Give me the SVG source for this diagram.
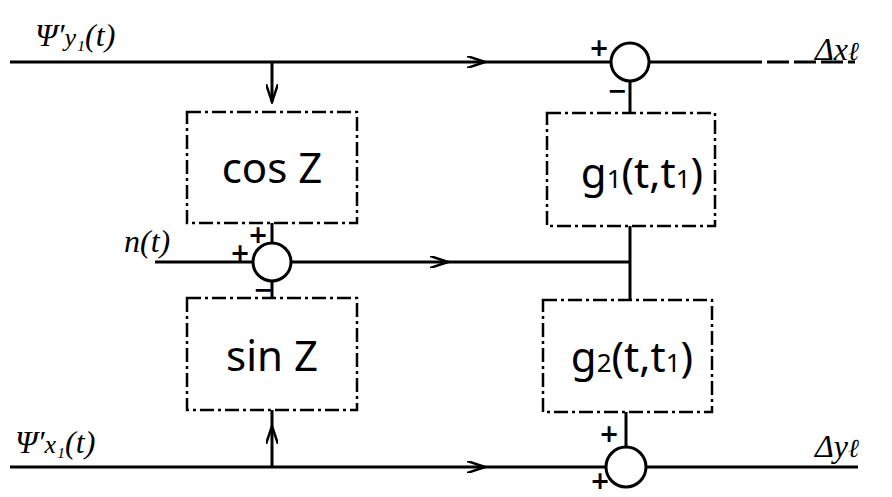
<svg xmlns="http://www.w3.org/2000/svg" width="892" height="497" viewBox="0 0 892 497">
<style>
.ln{stroke:#000;stroke-width:3;fill:none}
.box{stroke:#000;stroke-width:2.5;fill:#fff;stroke-dasharray:14 4 3 4}
.sum{stroke:#000;stroke-width:3;fill:#fff}
.lbl{font-family:"Noto Sans","DejaVu Sans",sans-serif;font-size:42px;fill:#000}
.hw{font-family:"Liberation Serif",serif;font-style:italic;font-size:32px;fill:#000}
.sg{font-family:"DejaVu Sans",sans-serif;font-size:24px;font-weight:bold;fill:#000}
</style>
<defs>
<marker id="ar" viewBox="0 0 20 12" refX="18" refY="6" markerWidth="20" markerHeight="12" markerUnits="userSpaceOnUse" orient="auto">
<path d="M0,0 L18,6 L0,12" fill="none" stroke="#000" stroke-width="2.5"/>
</marker>
</defs>
<g id="connectors">
<line class="ln" x1="10" y1="62" x2="485" y2="62" marker-end="url(#ar)"/>
<line class="ln" x1="485" y1="62" x2="611" y2="62"/>
<line class="ln" x1="649" y1="62" x2="740" y2="62"/>
<line class="ln" x1="740" y1="62" x2="855" y2="62" stroke-dasharray="22 5"/>
<line class="ln" x1="272" y1="62" x2="272" y2="102" marker-end="url(#ar)"/>
<line class="ln" x1="630" y1="81" x2="630" y2="113"/>
<line class="ln" x1="272" y1="223" x2="272" y2="243"/>
<line class="ln" x1="155" y1="262" x2="253" y2="262"/>
<line class="ln" x1="291" y1="262" x2="448" y2="262" marker-end="url(#ar)"/>
<line class="ln" x1="448" y1="262" x2="630" y2="262"/>
<line class="ln" x1="630" y1="226" x2="630" y2="300"/>
<line class="ln" x1="272" y1="281" x2="272" y2="298"/>
<line class="ln" x1="10" y1="467" x2="485" y2="467" marker-end="url(#ar)"/>
<line class="ln" x1="485" y1="467" x2="606" y2="467"/>
<line class="ln" x1="646" y1="467" x2="858" y2="467"/>
<line class="ln" x1="272" y1="467" x2="272" y2="426" marker-end="url(#ar)"/>
<line class="ln" x1="272" y1="426" x2="272" y2="410"/>
<line class="ln" x1="626" y1="412" x2="626" y2="447"/>
</g>
<g id="sum1"><circle class="sum" cx="630" cy="62" r="19"/>
<text class="sg" x="589" y="56">+</text><text class="sg" x="607" y="99">−</text></g>
<g id="sum2"><circle class="sum" cx="272" cy="262" r="19"/>
<text class="sg" x="230" y="261">+</text><text class="sg" x="248" y="243">+</text><text class="sg" x="253" y="298">−</text></g>
<g id="sum3"><circle class="sum" cx="626" cy="467" r="20"/>
<text class="sg" x="599" y="442">+</text><text class="sg" x="590" y="489">+</text></g>
<g id="cosZ"><rect class="box" x="187" y="112" width="170" height="111"/>
<text class="lbl" x="272" y="183" text-anchor="middle">cos Z</text></g>
<g id="sinZ"><rect class="box" x="187" y="298" width="170" height="112"/>
<text class="lbl" x="272" y="371" text-anchor="middle">sin Z</text></g>
<g id="g1"><rect class="box" x="547" y="113" width="168" height="113"/>
<text class="lbl" x="642" y="188" text-anchor="middle">g<tspan font-size="26">1</tspan>(t,t<tspan font-size="26">1</tspan>)</text></g>
<g id="g2"><rect class="box" x="543" y="300" width="169" height="112"/>
<text class="lbl" x="632" y="372" text-anchor="middle">g<tspan font-size="26">2</tspan>(t,t<tspan font-size="26">1</tspan>)</text></g>
<text class="hw" x="35" y="46">Ψ′<tspan font-size="26">y₁</tspan>(t)</text>
<text class="hw" x="124" y="252">n(t)</text>
<text class="hw" x="15" y="453">Ψ′<tspan font-size="26">x₁</tspan>(t)</text>
<text class="hw" x="815" y="60">Δx<tspan font-size="26">ℓ</tspan></text>
<text class="hw" x="815" y="457">Δy<tspan font-size="26">ℓ</tspan></text>
</svg>
